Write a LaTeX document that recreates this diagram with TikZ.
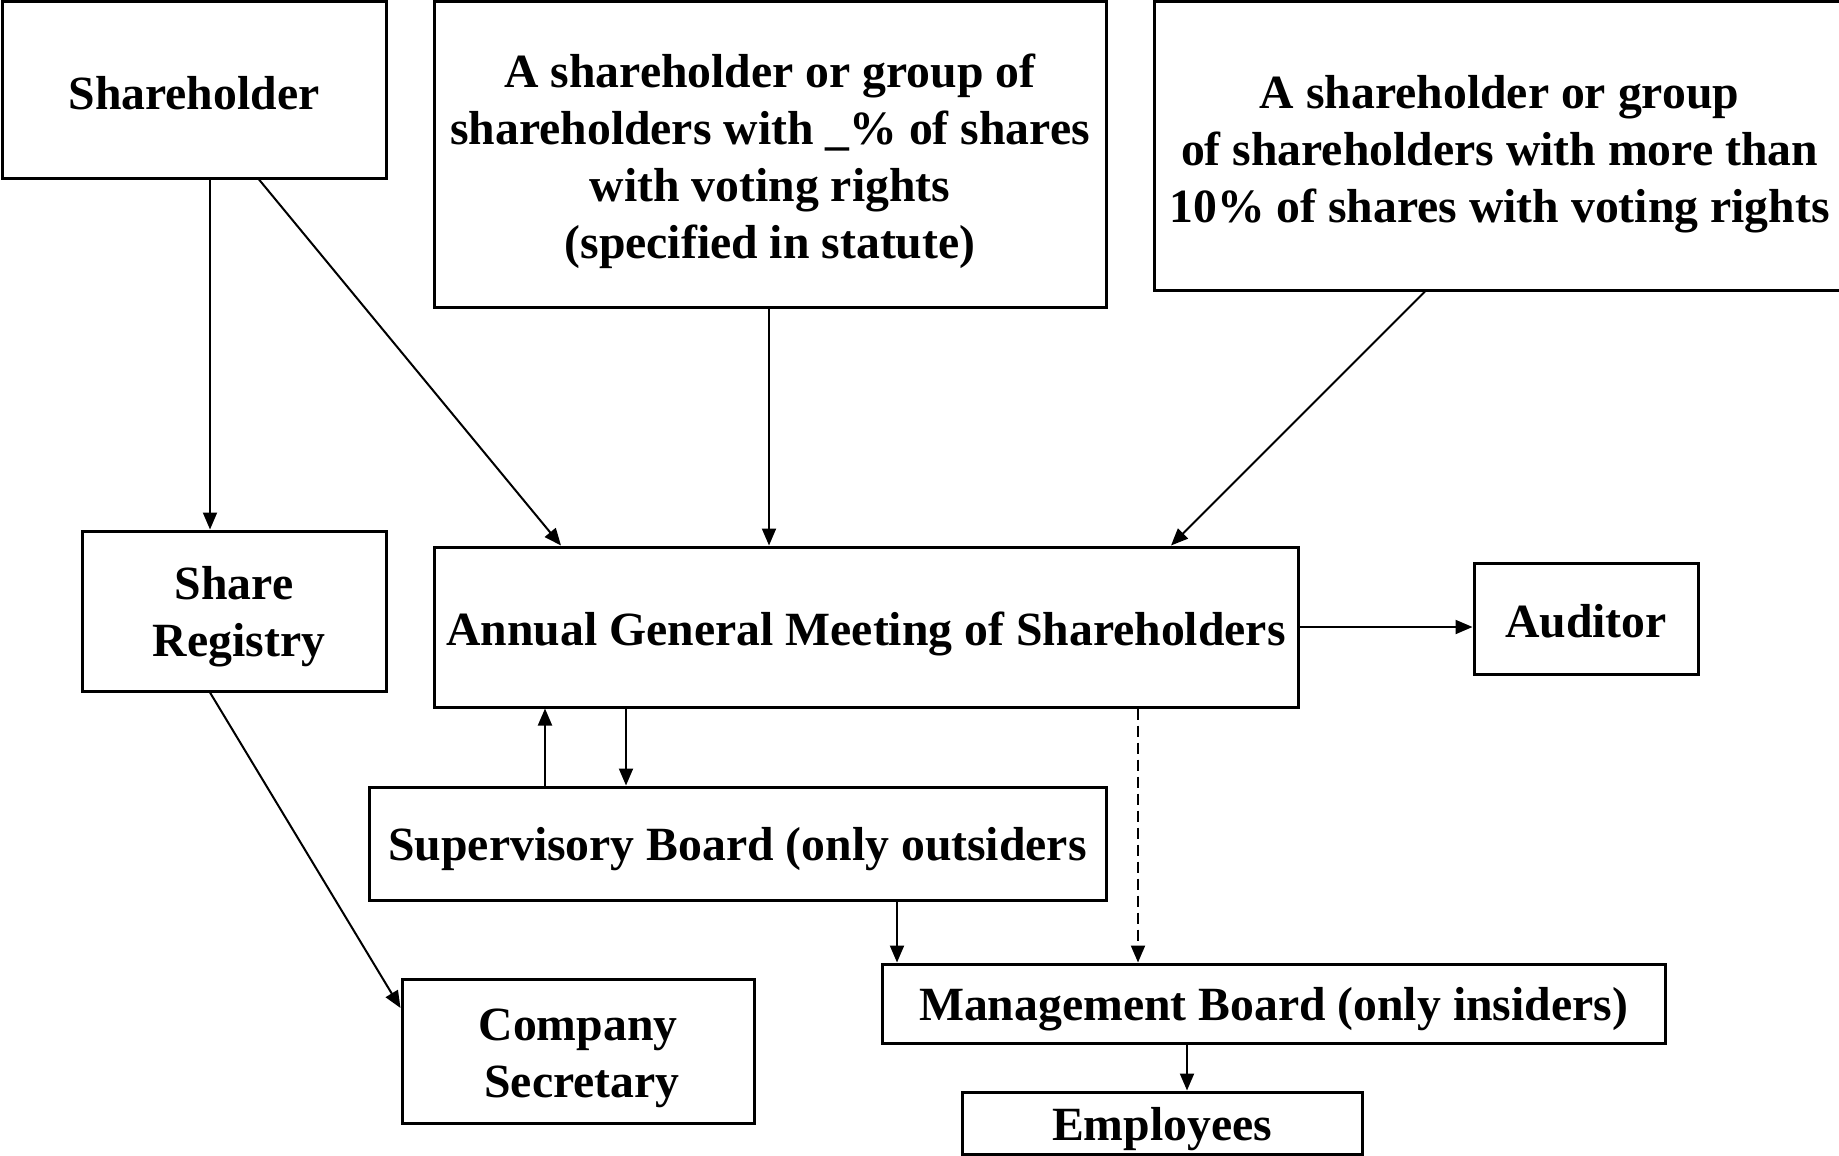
\documentclass[tikz,border=0pt]{standalone}
\usepackage{fontspec}
\setmainfont{Liberation Serif}
\usetikzlibrary{arrows.meta}
\newcommand{\lowtxt}[2][7pt]{\raisebox{-#1}[\height][\depth]{\begin{tabular}{@{}c@{}}#2\end{tabular}}}
\begin{document}
\begin{tikzpicture}[x=1pt,y=-1pt,
  box/.style={draw,line width=3pt,inner sep=0pt,
    font=\fontsize{47.7}{57}\selectfont\bfseries},
  arr/.style={line width=2pt,-{Triangle[length=17pt,width=14pt]}},
  dsh/.style={arr,dash pattern=on 11pt off 6pt}]
\clip (0,0) rectangle (1839,1156);
\fill[white] (0,0) rectangle (1839,1156);
\node[box,minimum width=384pt,minimum height=176pt] (sh) at (194,90) {\lowtxt[8pt]{Shareholder}};
\node[box,minimum width=672pt,minimum height=305pt] (mid) at (770,154.5)
  {\lowtxt{A shareholder or group of\\shareholders with \_\% of shares\\with voting rights\\(specified in statute)}};
\node[box,minimum width=691pt,minimum height=288pt] (rt) at (1499.5,146)
  {\lowtxt[8pt]{A shareholder or group\\of shareholders with more than\\10\% of shares with voting rights}};
\node[box,minimum width=304pt,minimum height=160pt] (reg) at (234,611) {\lowtxt[6pt]{Share\\\hspace*{10pt}Registry}};
\node[box,minimum width=864pt,minimum height=160pt] (agm) at (866,627) {\lowtxt{Annual General Meeting of Shareholders}};
\node[box,minimum width=224pt,minimum height=111pt] (aud) at (1586,619) {\lowtxt[7pt]{Auditor}};
\node[box,minimum width=737pt,minimum height=113pt] (sup) at (737.5,843.5) {\lowtxt[6pt]{Supervisory Board (only outsiders}};
\node[box,minimum width=352pt,minimum height=144pt] (cs) at (578,1051) {\lowtxt{Company\\\hspace*{8pt}Secretary}};
\node[box,minimum width=783pt,minimum height=79pt] (mb) at (1273.5,1003.5) {\lowtxt[6pt]{Management Board (only insiders)}};
\node[box,minimum width=400pt,minimum height=62pt] (emp) at (1162,1123) {\lowtxt[6pt]{Employees}};
\draw[arr] ([xshift=16pt]sh.south) -- ([xshift=-24pt]reg.north);
\draw[arr] ([xshift=65pt]sh.south) -- ([xshift=-305pt]agm.north);
\draw[arr] ([xshift=-1pt]mid.south) -- ([xshift=-97pt]agm.north);
\draw[arr] ([xshift=-74.5pt]rt.south) -- ([xshift=305pt]agm.north);
\draw[arr] (agm.east) -- (agm.east -| aud.west);
\draw[arr] ([xshift=-24pt]reg.south) -- ([yshift=43pt]cs.west);
\draw[arr] ([xshift=-192.5pt]sup.north) -- ([xshift=-321pt]agm.south);
\draw[arr] ([xshift=-240pt]agm.south) -- ([xshift=-111.5pt]sup.north);
\draw[arr] ([xshift=159.5pt]sup.south) -- ([xshift=-376.5pt]mb.north);
\draw[dsh] ([xshift=272pt]agm.south) -- ([xshift=-135.5pt]mb.north);
\draw[arr] ([xshift=-86.5pt]mb.south) -- ([xshift=25pt]emp.north);
\end{tikzpicture}
\end{document}
